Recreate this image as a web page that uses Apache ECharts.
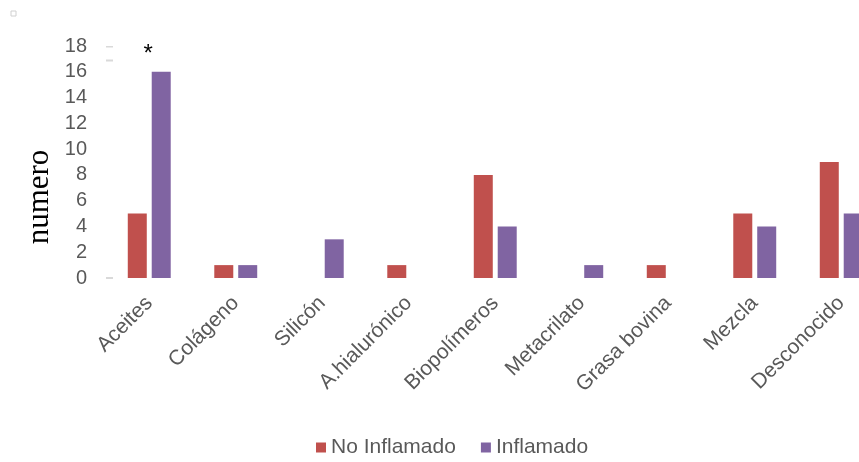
<!DOCTYPE html>
<html>
<head>
<meta charset="utf-8">
<script src="https://cdn.jsdelivr.net/npm/echarts@6/dist/echarts.min.js"></script>
<style>
  html, body { margin: 0; padding: 0; background: #ffffff; overflow: hidden; }
  #chart { width: 900px; height: 462px; }
</style>
</head>
<body>
<div id="chart"></div>
<script>
// Relleno por tipo de sustancia
const categories = ['Aceites', 'Colágeno', 'Silicón', 'A.hialurónico', 'Biopolímeros', 'Metacrilato', 'Grasa bovina', 'Mezcla', 'Desconocido'];
const noInflamado = [5, 1, 0, 1, 8, 0, 1, 5, 9];
const inflamado = [16, 1, 3, 0, 4, 1, 0, 4, 5];
const yTicks = { min: 0, max: 18, interval: 2 };
const seriesNames = ['No Inflamado', 'Inflamado'];
const significantIndex = 0;   // category marked with an asterisk

const textGray = '#595959';
const sansFont = '"Liberation Sans", Arial, sans-serif';

const chart = echarts.init(document.getElementById('chart'), null, { renderer: 'canvas' });

const inflamadoData = inflamado.map((v, i) => i === significantIndex
  ? { value: v, label: { show: true, formatter: '*', position: 'top', distance: 5, offset: [-13, 0], color: '#000', fontSize: 24, fontFamily: sansFont } }
  : v);

chart.setOption({
  animation: false,
  backgroundColor: '#ffffff',
  grid: { left: 106, top: 46, width: 778.5, height: 232, containLabel: false },
  legend: {
    data: seriesNames,
    left: 311,
    top: 432,
    itemWidth: 10,
    itemHeight: 10,
    itemGap: 25,
    icon: 'rect',
    textStyle: { color: textGray, fontSize: 21, fontFamily: sansFont }
  },
  xAxis: {
    type: 'category',
    data: categories,
    axisLine: { show: false },
    axisTick: { show: false },
    axisLabel: { rotate: 45, margin: 22, interval: 0, color: textGray, fontSize: 21, fontFamily: sansFont }
  },
  yAxis: {
    type: 'value',
    min: yTicks.min,
    max: yTicks.max,
    interval: yTicks.interval,
    axisLine: { show: false },
    axisTick: { show: false },
    splitLine: { show: false },
    axisLabel: { margin: 19, color: textGray, fontSize: 20, fontFamily: sansFont }
  },
  series: [
    { name: seriesNames[0], type: 'bar', data: noInflamado, barWidth: 19, barGap: '26%', itemStyle: { color: '#C0504D' } },
    { name: seriesNames[1], type: 'bar', data: inflamadoData, barWidth: 19, barGap: '26%', itemStyle: { color: '#8064A2' } }
  ],
  graphic: [
    { type: 'text', x: 40, y: 197, rotation: Math.PI / 2,
      style: { text: 'numero', fill: '#000', font: '31px "Liberation Serif", "Times New Roman", serif', textAlign: 'center', textVerticalAlign: 'middle' } },
    { type: 'rect', shape: { x: 11, y: 11, width: 5, height: 5 }, style: { fill: 'none', stroke: '#d0d0d0', lineWidth: 1 } },
    { type: 'rect', shape: { x: 106, y: 277, width: 7, height: 2 }, style: { fill: '#d9d9d9' } },
    { type: 'rect', shape: { x: 106, y: 46, width: 7, height: 1.5 }, style: { fill: '#d9d9d9' } },
    { type: 'rect', shape: { x: 106, y: 59.5, width: 7, height: 2 }, style: { fill: '#d9d9d9' } }
  ]
});
</script>
</body>
</html>
